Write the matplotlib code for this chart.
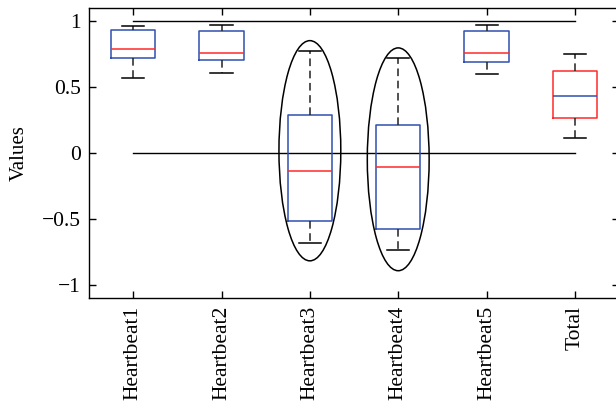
import matplotlib
matplotlib.use('Agg')
import matplotlib.pyplot as plt
from matplotlib.patches import Ellipse

plt.rcParams['font.family'] = ['Liberation Serif', 'DejaVu Serif']

labels = ['Heartbeat1', 'Heartbeat2', 'Heartbeat3', 'Heartbeat4', 'Heartbeat5', 'Total']
whislo = [0.570, 0.608, -0.686, -0.738, 0.598, 0.113]
q1 = [0.718, 0.706, -0.518, -0.580, 0.691, 0.261]
med = [0.789, 0.759, -0.141, -0.105, 0.756, 0.432]
q3 = [0.927, 0.922, 0.284, 0.209, 0.924, 0.616]
whishi = [0.962, 0.965, 0.771, 0.721, 0.967, 0.751]

# circled boxes: (position, centre y, width, height)
ell_pos = [3, 4]
ell_cy = [0.015, -0.05]
ell_w = [0.70, 0.70]
ell_h = [1.67, 1.69]

ref_lines = [1.0, 0.0]

blue = '#3050b0'
red = '#ff2a2a'

fig = plt.figure(figsize=(6.16, 4.04), dpi=100)
ax = fig.add_axes([0.1445, 0.263, 0.8605, 0.718])

stats = []
for i in range(len(labels)):
    stats.append({'whislo': whislo[i], 'q1': q1[i], 'med': med[i],
                  'q3': q3[i], 'whishi': whishi[i], 'fliers': []})

pos = list(range(1, len(labels) + 1))
for i, s in enumerate(stats):
    last = labels[i] == 'Total'
    ax.bxp([s], positions=[pos[i]], widths=0.5, showfliers=False,
           boxprops=dict(color=red if last else blue, linewidth=1.1),
           medianprops=dict(color=blue if last else red, linewidth=1.1),
           whiskerprops=dict(color='#222222', linewidth=1.1, linestyle=(0, (5, 3))),
           capprops=dict(color='black', linewidth=1.1),
           capwidths=0.25)

for y in ref_lines:
    ax.plot([pos[0], pos[-1]], [y, y], color='black', linewidth=1.0, zorder=1)

for p, cy, w, h in zip(ell_pos, ell_cy, ell_w, ell_h):
    ax.add_patch(Ellipse((p, cy), w, h, fill=False, edgecolor='black', linewidth=1.1))

ax.set_xlim(0.5, 6.5)
ax.set_ylim(-1.1, 1.1)
ax.set_yticks([-1, -0.5, 0, 0.5, 1])
ax.set_yticklabels(['\u22121', '\u22120.5', '0', '0.5', '1'])
ax.set_xticks(pos)
ax.set_xticklabels(labels, rotation=90)
ax.tick_params(direction='in', length=5, width=1, top=True, right=True,
               labelsize=15.5, pad=6)
ax.set_ylabel('Values', fontsize=15, labelpad=9)
for sp in ax.spines.values():
    sp.set_linewidth(1.0)

fig.savefig('out.png', dpi=100)
